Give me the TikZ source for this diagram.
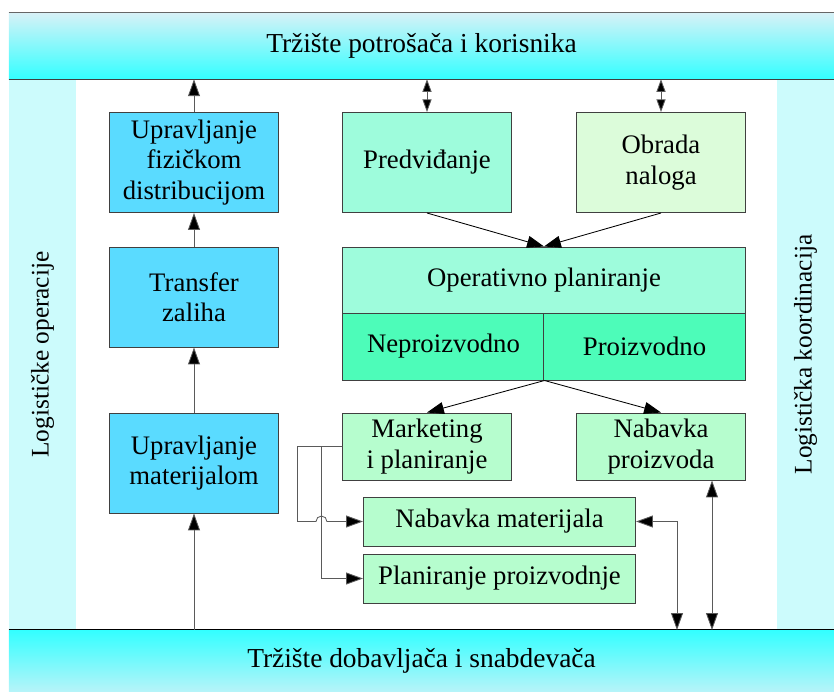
\documentclass[tikz,border=0pt]{standalone}
\usepackage{fontspec}
\setmainfont{Liberation Serif}
\usepackage{tikz}
\usetikzlibrary{arrows.meta,calc}

\definecolor{blueBox}{RGB}{90,219,255}
\definecolor{aquaBox}{RGB}{158,252,220}
\definecolor{aquaDark}{RGB}{77,252,185}
\definecolor{paleBox}{RGB}{220,252,218}
\definecolor{greenBox}{RGB}{182,253,206}
\definecolor{sideCol}{RGB}{204,251,252}
\definecolor{barLight}{RGB}{214,241,247}
\definecolor{barCyan}{RGB}{51,255,255}
\definecolor{edge}{RGB}{64,64,64}
\definecolor{wire}{RGB}{90,90,90}

\tikzset{
  box/.style={draw=edge, line width=0.7pt, inner sep=0pt, align=center,
    font=\fontsize{19}{21.5}\selectfont},
  tall/.style={box, minimum width=4.2cm, minimum height=2.5cm},
  half/.style={box, minimum width=4.2cm, minimum height=1.675cm},
  wide/.style={box, minimum width=6.8cm, minimum height=1.225cm, fill=greenBox},
  side/.style={fill=sideCol, rotate=90, inner sep=0pt,
    font=\fontsize{18}{21}\selectfont},
  bar/.style={inner sep=0pt, minimum width=20.625cm,
    font=\fontsize{19.5}{22}\selectfont},
  tip/.tip={Triangle[length=12pt,width=8.5pt,fill=black]},
  smalltip/.tip={Triangle[length=9pt,width=6.5pt,fill=black]},
  arr/.style={draw=wire, line width=0.6pt, -tip},
  dblarr/.style={draw=wire, line width=0.6pt, tip-tip},
  topdbl/.style={draw=wire, line width=0.6pt, smalltip-smalltip}
}

\begin{document}
\begin{tikzpicture}[x=0.025cm, y=-0.025cm, auto]
  \useasboundingbox (0,0) rectangle (834,691);

  \node (logop) [side, minimum width=13.775cm, minimum height=1.675cm] at (42.5,354.5) {Logističke operacije};
  \node (logkoord) [side, minimum width=13.775cm, minimum height=1.425cm] at (805.5,354.5) {Logistička koordinacija};

  \node (kup) [bar, minimum height=1.65cm, top color=barLight, bottom color=barCyan] at (421.5,46) {Tržište potrošača i korisnika};
  \node (dob) [bar, minimum height=1.525cm, top color=barCyan, bottom color=barLight!80!barCyan] at (421.5,660.5) {Tržište dobavljača i snabdevača};
  \draw[edge!80, line width=0.8pt] (kup.north west) -- (kup.north east);
  \draw[edge, line width=0.8pt] (kup.south west) -- (kup.south east);
  \draw[black, line width=0.8pt] (dob.north west) -- (dob.north east);

  \node (ufd) [tall, fill=blueBox] at (194,162.5) {Upravljanje\\fizičkom\\distribucijom};
  \node (tz) [tall, fill=blueBox] at (194,297) {Transfer\\zaliha};
  \node (um) [tall, fill=blueBox] at (194,463) {Upravljanje\\materijalom};

  \node (pred) [tall, fill=aquaBox] at (427,162.5) {Predviđanje};
  \node (obr) [tall, fill=paleBox] at (661,162.5) {Obrada\\naloga};

  \node (op) [box, fill=aquaBox, minimum width=10.05cm, minimum height=1.65cm] at (544,280) {Operativno planiranje};
  \node (nepr) [box, fill=aquaDark, minimum width=5.025cm, minimum height=1.675cm] at (443.5,346.5) {Neproizvodno};
  \node (proi) [box, fill=aquaDark, minimum width=5.025cm, minimum height=1.675cm] at (644.5,346.5) {Proizvodno};

  \node (mkt) [half, fill=greenBox] at (427,446.5) {Marketing\\i planiranje};
  \node (nabp) [half, fill=greenBox] at (661,446.5) {Nabavka\\proizvoda};
  \node (nabm) [wide] at (499.5,521.5) {Nabavka materijala};
  \node (plan) [wide] at (499.5,578.5) {Planiranje proizvodnje};

  \draw[arr] (ufd.north) -- (ufd.north |- kup.south);
  \draw[arr] (tz) -- (ufd);
  \draw[arr] (um) -- (tz);
  \draw[arr] (um.south |- dob.north) -- (um.south);

  \draw[topdbl] (pred.north) -- (pred.north |- kup.south);
  \draw[topdbl] (obr.north) -- (obr.north |- kup.south);
  \draw[arr, draw=black] (pred.south) -- (op.north);
  \draw[arr, draw=black] (obr.south) -- (op.north);
  \draw[arr, draw=black] (nepr.south east) -- (mkt.north);
  \draw[arr, draw=black] (nepr.south east) -- (nabp.north);

  \coordinate (c1) at ($(mkt.west)+(-45,0)$);
  \coordinate (c2) at ($(mkt.west)+(-21,0)$);
  \draw[arr] (mkt.west) -- (c1) |- ($(c2 |- nabm.west)+(-5.5,0)$)
    arc[start angle=180, end angle=0, radius=3.9pt] -- (nabm.west);
  \draw[arr] (c2) |- (plan.west);

  \coordinate (c3) at (677,630);
  \coordinate (c4) at (712,630);
  \draw[dblarr] (nabm.east) -| (c3);
  \draw[dblarr] (nabp.south -| c4) -- (c4);
\end{tikzpicture}
\end{document}
